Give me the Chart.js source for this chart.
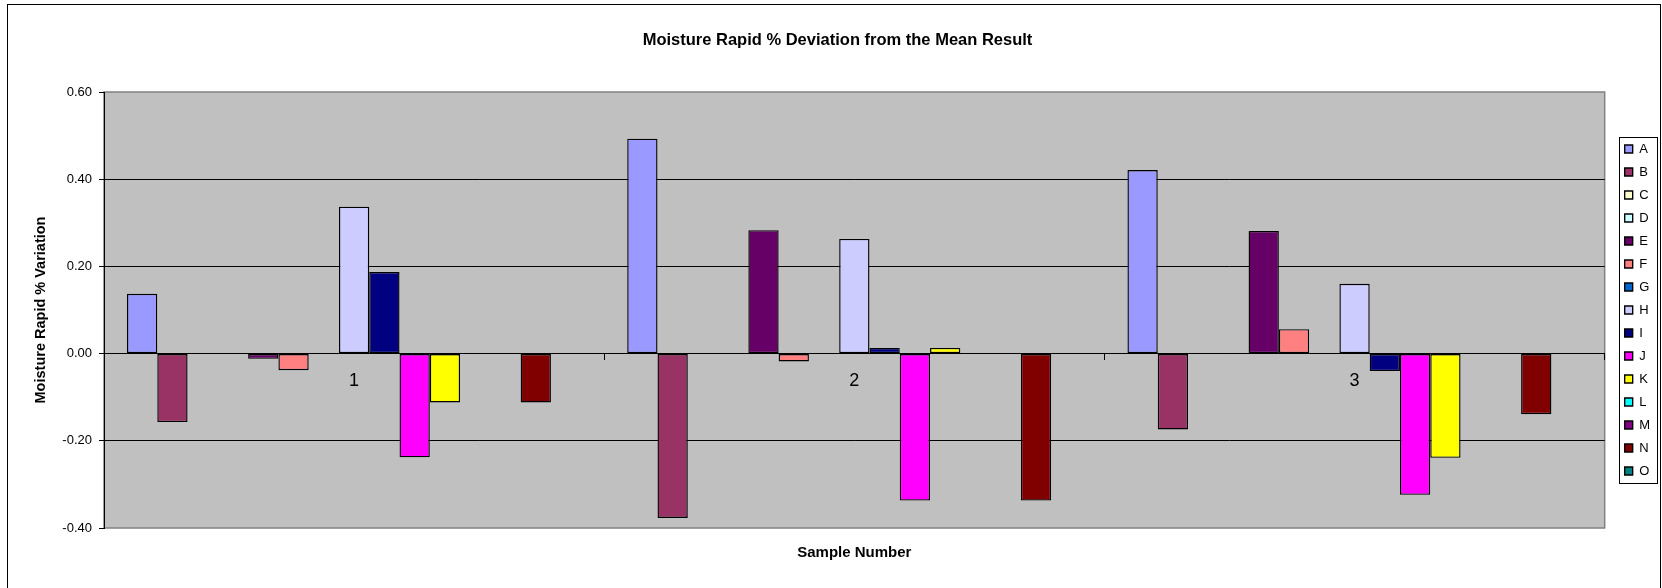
<!DOCTYPE html>
<html>
<head>
<meta charset="utf-8">
<title>Moisture Rapid % Deviation from the Mean Result</title>
<script src="https://cdn.jsdelivr.net/npm/chart.js@4.4.1/dist/chart.umd.min.js"></script>
<style>
  html, body { margin: 0; padding: 0; background: #fff; }
  #wrap { width: 1662px; height: 588px; position: relative; }
</style>
</head>
<body>
<div id="wrap"><canvas id="deviationChart"></canvas></div>
<script>
// Sample numbers on the x axis
const samples = ['1', '2', '3'];

// Laboratory series (A..O), % deviation per sample
const seriesNames = ['A', 'B', 'C', 'D', 'E', 'F', 'G', 'H', 'I', 'J', 'K', 'L', 'M', 'N', 'O'];
const labA = [0.137, 0.493, 0.421];
const labB = [-0.157, -0.377, -0.174];
const labC = [null, null, null];
const labD = [null, null, null];
const labE = [-0.012, 0.283, 0.281];
const labF = [-0.038, -0.018, 0.056];
const labG = [null, null, null];
const labH = [0.337, 0.263, 0.160];
const labI = [0.187, 0.013, -0.040];
const labJ = [-0.238, -0.337, -0.324];
const labK = [-0.112, 0.013, -0.239];
const labL = [null, null, null];
const labM = [null, null, null];
const labN = [-0.112, -0.337, -0.139];
const labO = [null, null, null];
const seriesValues = [labA, labB, labC, labD, labE, labF, labG, labH, labI, labJ, labK, labL, labM, labN, labO];

// y axis range and tick step
const yMin = -0.4;
const yMax = 0.6;
const yStep = 0.2;

// Excel's default series palette
const seriesColors = [
    '#9999ff', '#993366', '#ffffcc', '#ccffff', '#660066',
    '#ff8080', '#0066cc', '#ccccff', '#000080', '#ff00ff',
    '#ffff00', '#00ffff', '#800080', '#800000', '#008080'
];

const FONT = 'Arial, "Liberation Sans", sans-serif';
Chart.defaults.font.family = FONT;
Chart.defaults.color = '#000';

// grey plot area, outer frame and the legend box
const excelFrame = {
    id: 'excelFrame',
    beforeDraw(chart) {
        const { ctx, chartArea: a } = chart;
        ctx.save();
        ctx.fillStyle = '#fff';
        ctx.fillRect(0, 0, chart.width, chart.height);
        ctx.strokeStyle = '#000';
        ctx.lineWidth = 1;
        ctx.strokeRect(7.5, 4.5, chart.width - 9, chart.height + 10);
        ctx.fillStyle = '#c0c0c0';
        ctx.fillRect(a.left, a.top, a.right - a.left, a.bottom - a.top);
        ctx.strokeStyle = '#808080';
        ctx.lineWidth = 1.5;
        ctx.strokeRect(a.left, a.top, a.right - a.left, a.bottom - a.top);
        ctx.restore();
    },
    afterDraw(chart) {
        const lg = chart.legend;
        const boxes = lg.legendHitBoxes;
        if (!boxes || !boxes.length) return;
        const first = boxes[0];
        const last = boxes[boxes.length - 1];
        const ctx = chart.ctx;
        ctx.save();
        ctx.strokeStyle = '#000';
        ctx.lineWidth = 1;
        const left = Math.round(first.left - 6) + 0.5;
        const top = Math.round(first.top - 5.5) + 0.5;
        const bottom = Math.round(last.top + last.height + 5.5) + 0.5;
        const right = Math.round(lg.right - 3) + 0.5;
        ctx.strokeRect(left, top, right - left, bottom - top);
        ctx.restore();
    }
};

const datasets = seriesNames.map((name, i) => ({
    label: name,
    data: seriesValues[i],
    backgroundColor: seriesColors[i],
    borderColor: '#000',
    borderWidth: 1.4,
    borderSkipped: false,
    categoryPercentage: 0.908,
    barPercentage: 1.0
}));

const isEdge = v => Math.abs(v - yMax) < 1e-9 || Math.abs(v - yMin) < 1e-9;

new Chart(document.getElementById('deviationChart'), {
    type: 'bar',
    data: { labels: samples, datasets: datasets },
    plugins: [excelFrame],
    options: {
        responsive: true,
        maintainAspectRatio: false,
        animation: false,
        layout: { padding: { left: 15, right: 2, top: 0, bottom: 0 } },
        plugins: {
            title: {
                display: true,
                text: 'Moisture Rapid % Deviation from the Mean Result',
                font: { family: FONT, size: 16.5, weight: 'bold' },
                color: '#000',
                padding: { top: 31, bottom: 41.2 }
            },
            legend: {
                position: 'right',
                fullSize: false,
                labels: {
                    boxWidth: 8,
                    boxHeight: 8,
                    padding: 10,
                    color: '#000',
                    font: { family: FONT, size: 13 }
                }
            },
            tooltip: { enabled: false }
        },
        scales: {
            x: {
                position: { y: 0 },
                grid: {
                    offset: true,
                    drawOnChartArea: false,
                    drawTicks: true,
                    tickLength: 6,
                    color: '#000',
                    tickColor: '#000'
                },
                border: { display: true, color: '#000', width: 1 },
                ticks: {
                    font: { family: FONT, size: 18 },
                    color: '#000',
                    padding: 11,
                    maxRotation: 0
                }
            },
            x2: {
                type: 'category',
                position: 'bottom',
                labels: samples,
                grid: { display: false, drawTicks: false },
                border: { display: false },
                ticks: { display: false },
                title: {
                    display: true,
                    text: 'Sample Number',
                    font: { family: FONT, size: 15, weight: 'bold' },
                    color: '#000',
                    padding: { top: 16, bottom: 26 }
                },
                afterFit(scale) { scale.height = 60; }
            },
            y: {
                min: yMin,
                max: yMax,
                ticks: {
                    stepSize: yStep,
                    font: { family: FONT, size: 13 },
                    color: '#000',
                    padding: 7,
                    callback: v => Number(v).toFixed(2)
                },
                grid: {
                    color: c => isEdge(c.tick.value) ? 'rgba(0,0,0,0)' : '#000',
                    tickColor: '#000',
                    tickLength: 5,
                    lineWidth: 1
                },
                border: { display: true, color: '#000', width: 1 },
                title: {
                    display: true,
                    text: 'Moisture Rapid % Variation',
                    font: { family: FONT, size: 14.5, weight: 'bold' },
                    color: '#000',
                    padding: { top: 17.3, bottom: 0 }
                },
                afterFit(scale) { scale.width = 89; }
            },
            gap: {
                type: 'linear',
                position: 'right',
                display: true,
                grid: { display: false, drawTicks: false },
                border: { display: false },
                ticks: { display: false },
                afterFit(scale) { scale.width = 10; }
            }
        }
    }
});
</script>
</body>
</html>
